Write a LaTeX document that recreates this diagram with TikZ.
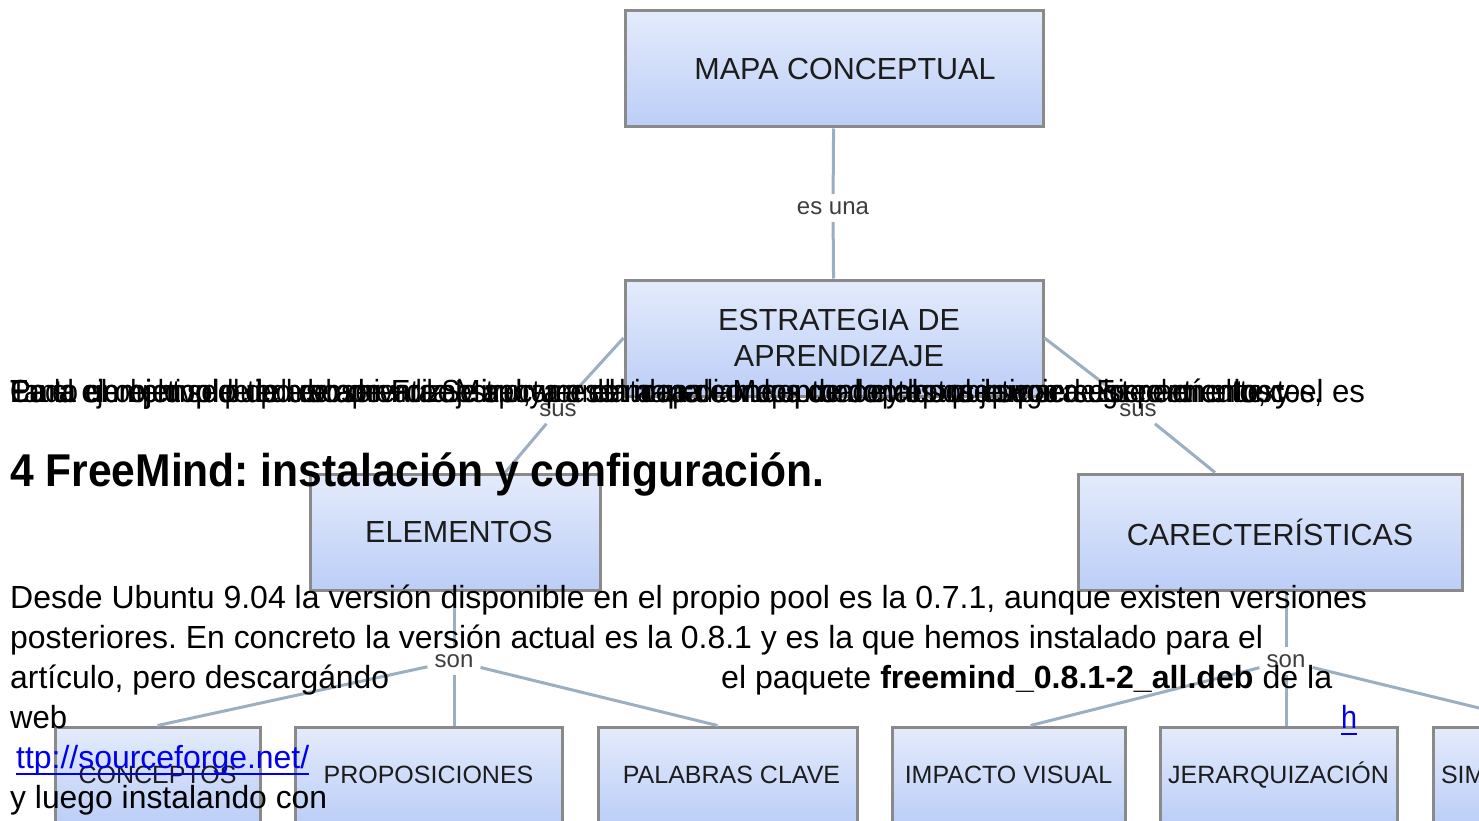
\documentclass[tikz,border=0pt]{standalone}
\usepackage{fontspec}
\setmainfont{Liberation Sans}
\usepackage{graphicx}
\definecolor{boxtop}{RGB}{228,235,251}
\definecolor{boxbot}{RGB}{188,206,247}
\definecolor{boxline}{RGB}{138,138,138}
\definecolor{conn}{RGB}{155,175,192}
\definecolor{labtext}{RGB}{28,28,28}
\definecolor{lnk}{RGB}{0,0,238}
\newcommand{\fitw}[2]{\resizebox{#1pt}{\height}{#2}}
\frenchspacing
\begin{document}
\begin{tikzpicture}[x=1pt,y=-1pt,
  cbox/.style={draw=boxline, line width=3pt, top color=boxtop, bottom color=boxbot,
    inner sep=0pt, text=labtext, align=center, minimum height=116pt,
    font=\fontsize{30.5}{36}\selectfont},
  lowbox/.style={cbox, minimum height=96pt, font=\fontsize{25}{30}\selectfont},
  clab/.style={inner sep=7pt, text=labtext!85, font=\fontsize{24}{28}\selectfont},
  conn/.style={draw=conn, line width=3pt},
  body/.style={anchor=base west, inner sep=0pt, font=\fontsize{32}{40}\selectfont},
  head/.style={anchor=base west, inner sep=0pt, font=\fontsize{46}{52}\selectfont\bfseries},
  link/.style={body, text=lnk}]
\useasboundingbox (0,0) rectangle (1479,821);
\clip (0,0) rectangle (1479,821);
\fill[white] (0,0) rectangle (1479,821);

% boxes
\node[cbox, minimum width=418pt] (mapa) at (834,69) {\hspace*{22pt}MAPA CONCEPTUAL};
\node[cbox, minimum width=418pt] (estr) at (834,338) {\hspace*{10pt}ESTRATEGIA DE\\\hspace*{10pt}APRENDIZAJE};
\node[cbox, minimum width=290pt] (elem) at (455,532) {\hspace*{8pt}ELEMENTOS};
\node[cbox, minimum width=384pt] (car) at (1270,532) {CARECTERÍSTICAS};
\node[lowbox, minimum width=205pt] (conc) at (157.5,775) {CONCEPTOS};
\node[lowbox, minimum width=267pt] (prop) at (428.5,775) {PROPOSICIONES};
\node[lowbox, minimum width=259pt] (pal) at (727.5,775) {\hspace*{8pt}PALABRAS CLAVE};
\node[lowbox, minimum width=233pt] (imp) at (1008.5,775) {IMPACTO VISUAL};
\node[lowbox, minimum width=237pt] (jer) at (1278.5,775) {JERARQUIZACIÓN};
\node[lowbox, minimum width=236pt, text width=220pt, align=left] (sim) at (1551,775) {SIM};

% connector labels
\node[clab] (esuna) at (833,208) {es una};
\node[clab] (sus1) at (558,410) {sus};
\node[clab] (sus2) at (1138,410) {sus};
\node[clab] (son1) at (454,661) {son};
\node[clab] (son2) at (1286,661) {son};

% connectors
\draw[conn] (mapa) -- (esuna) -- (estr);
\draw[conn] (estr.west) -- (sus1) -- (elem);
\draw[conn] (estr.east) -- (sus2) -- ([xshift=-55pt]car.north);
\draw[conn] (son1.north |- elem.south) -- (son1.north);
\draw[conn] (son1.south) -- (son1.south |- prop.north);
\draw[conn] (son1) -- (conc.north);
\draw[conn] (son1) -- ([xshift=-10pt]pal.north);
\draw[conn] (son2.north |- car.south) -- (son2.north);
\draw[conn] (son2.south) -- (son2.south |- jer.north);
\draw[conn] (son2) -- ([xshift=22pt]imp.north);
\draw[conn] (son2) -- (sim.north);

% overlaid document text
\node[body] (g1) at (10,402) {\fitw{1355}{Para un ejemplo de uso de FreeMind, ver el mapa conceptual elaborado para este artículo, y el es}};
\node[body] (g2) at (10,402) {\fitw{1312}{En el ejemplo se puede observar la estructura del mapa con los conceptos que sugiere Es pero entonces,}};
\node[body] (g3) at (10,402) {\fitw{1290}{Tanto el objetivo de la herramienta Se apoya en la idea de Mapa de conceptos que se sugiere en el texto}};
\node[body] (g4) at (10,402) {\fitw{1262}{Cada elemento del tipo de aprendizaje se representa mediante un nodo y los objetivos de los elementos}};

\node[head] (h1) at (10,486) {\fitw{814}{4 FreeMind: instalación y configuración.}};

\node[body] (t1) at (10,608) {\fitw{1357}{Desde Ubuntu 9.04 la versión disponible en el propio pool es la 0.7.1, aunque existen versiones}};
\node[body] (t2) at (10,648) {\fitw{1253}{posteriores. En concreto la versión actual es la 0.8.1 y es la que hemos instalado para el}};
\node[body] (t3) at (10,688) {\fitw{379}{artículo, pero descargándo}};
\node[body] (t3b) at (721,688) {\fitw{611}{el paquete \textbf{freemind\_0.8.1-2\_all.deb} de la}};
\node[body] (t4) at (10,728) {\fitw{57}{web}};
\node[link] (t4b) at (1341,728) {\fitw{16}{h}};
\node[link] (t5) at (16,768) {\fitw{293}{ttp://sourceforge.net/}};
\node[body] (t6) at (10,808) {\fitw{317}{y luego instalando con}};
\draw[lnk, line width=2pt] (t4b.base west) ++(0,6) -- ++(16,0);
\draw[lnk, line width=2pt] (t5.base west) ++(0,6) -- ++(293,0);
\end{tikzpicture}
\end{document}
